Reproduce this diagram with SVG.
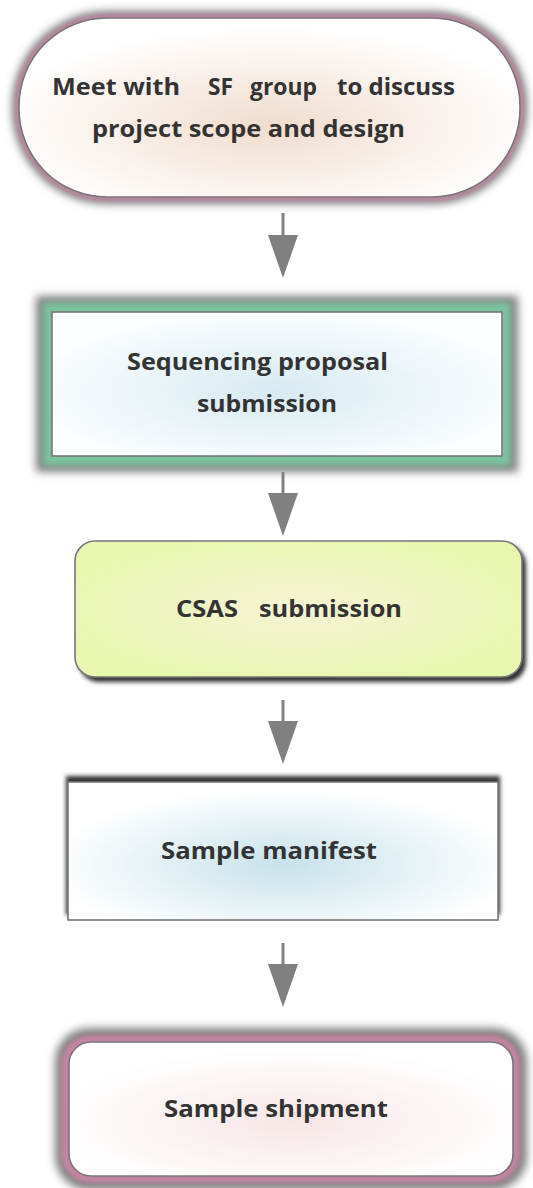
<svg xmlns="http://www.w3.org/2000/svg" width="533" height="1188" viewBox="0 0 533 1188">
  <style>
    .label { font-family: "Open Sans", "Liberation Sans", sans-serif; font-weight: 700; font-size: 24px; fill: #333333; }
    .border { stroke: #777777; stroke-width: 1.6; }
    .halo { fill: #808080; filter: url(#soft4); }
    .pink { fill: #c384a3; filter: url(#soft2); }
    .green { fill: #7cc39f; filter: url(#soft3); }
    .drop { fill: #333333; filter: url(#soft2); }
    .flow { stroke: #808080; stroke-width: 3; fill: none; marker-end: url(#head); }
  </style>
  <defs>
    <filter id="soft4" x="-20%" y="-40%" width="140%" height="180%"><feGaussianBlur stdDeviation="4"/></filter>
    <filter id="soft3" x="-20%" y="-40%" width="140%" height="180%"><feGaussianBlur stdDeviation="3"/></filter>
    <filter id="soft2" x="-20%" y="-40%" width="140%" height="180%"><feGaussianBlur stdDeviation="2"/></filter>
    <radialGradient id="gPeach" cx="0.5" cy="0.6" r="0.55">
      <stop offset="0" stop-color="#f0dccd"/>
      <stop offset="1" stop-color="#ffffff"/>
    </radialGradient>
    <radialGradient id="gBlue" cx="0.5" cy="0.55" r="0.55">
      <stop offset="0" stop-color="#d6eaf1"/>
      <stop offset="1" stop-color="#fbfdfe"/>
    </radialGradient>
    <radialGradient id="gLime" cx="0.5" cy="0.5" r="0.55">
      <stop offset="0" stop-color="#f6f3d4"/>
      <stop offset="1" stop-color="#e8f7b0"/>
    </radialGradient>
    <radialGradient id="gAqua" cx="0.5" cy="0.6" r="0.55">
      <stop offset="0" stop-color="#c6e2ea"/>
      <stop offset="1" stop-color="#ffffff"/>
    </radialGradient>
    <radialGradient id="gBlush" cx="0.5" cy="0.6" r="0.55">
      <stop offset="0" stop-color="#f7e6e6"/>
      <stop offset="1" stop-color="#ffffff"/>
    </radialGradient>
    <marker id="head" viewBox="0 0 43 30" markerUnits="userSpaceOnUse" markerWidth="43" markerHeight="30" refX="0" refY="15" orient="auto">
      <path d="M0,0 L43,15 L0,30 Z" fill="#808080"/>
    </marker>
  </defs>

  <!-- connectors -->
  <g id="connectors">
    <line class="flow" x1="283" y1="213" x2="283" y2="235"/>
    <line class="flow" x1="283" y1="472" x2="283" y2="493"/>
    <line class="flow" x1="283" y1="700" x2="283" y2="721"/>
    <line class="flow" x1="283" y1="943" x2="283" y2="964"/>
  </g>

  <!-- start: meeting -->
  <g id="meet">
    <rect class="halo" x="12" y="11" width="515" height="193" rx="95"/>
    <rect class="pink" x="15.5" y="14.5" width="508" height="186" rx="92"/>
    <rect class="border" x="19" y="18" width="501" height="179" rx="88" fill="url(#gPeach)"/>
    <text class="label" x="52" y="95" textLength="128" lengthAdjust="spacingAndGlyphs">Meet with</text>
    <text class="label" x="208" y="95" textLength="25" lengthAdjust="spacingAndGlyphs">SF</text>
    <text class="label" x="250" y="95" textLength="67" lengthAdjust="spacingAndGlyphs">group</text>
    <text class="label" x="337" y="95" textLength="118" lengthAdjust="spacingAndGlyphs">to discuss</text>
    <text class="label" x="92" y="137" textLength="313" lengthAdjust="spacingAndGlyphs">project scope and design</text>
  </g>

  <!-- proposal -->
  <g id="proposal">
    <rect class="halo" x="36" y="296" width="482" height="176"/>
    <rect class="green" x="43" y="302" width="468" height="164"/>
    <rect class="border" x="52" y="312" width="450" height="144" fill="url(#gBlue)"/>
    <text class="label" x="127" y="370" textLength="261" lengthAdjust="spacingAndGlyphs">Sequencing proposal</text>
    <text class="label" x="197" y="412" textLength="140" lengthAdjust="spacingAndGlyphs">submission</text>
  </g>

  <!-- CSAS -->
  <g id="csas">
    <rect class="drop" x="79" y="545" width="447" height="137" rx="20"/>
    <rect class="border" x="75" y="541" width="447" height="136" rx="20" fill="url(#gLime)"/>
    <text class="label" x="176" y="617" textLength="62" lengthAdjust="spacingAndGlyphs">CSAS</text>
    <text class="label" x="259" y="617" textLength="143" lengthAdjust="spacingAndGlyphs">submission</text>
  </g>

  <!-- manifest -->
  <g id="manifest">
    <rect class="drop" x="66" y="776" width="434" height="139"/>
    <rect class="border" x="68" y="782" width="430" height="138" fill="url(#gAqua)"/>
    <text class="label" x="161" y="859" textLength="216" lengthAdjust="spacingAndGlyphs">Sample manifest</text>
  </g>

  <!-- shipment -->
  <g id="shipment">
    <rect class="halo" x="55" y="1028" width="472" height="162" rx="34"/>
    <rect class="pink" x="61" y="1035" width="459" height="148" rx="29"/>
    <rect class="border" x="69" y="1042" width="444" height="134" rx="22" fill="url(#gBlush)"/>
    <text class="label" x="164" y="1117" textLength="224" lengthAdjust="spacingAndGlyphs">Sample shipment</text>
  </g>
</svg>
